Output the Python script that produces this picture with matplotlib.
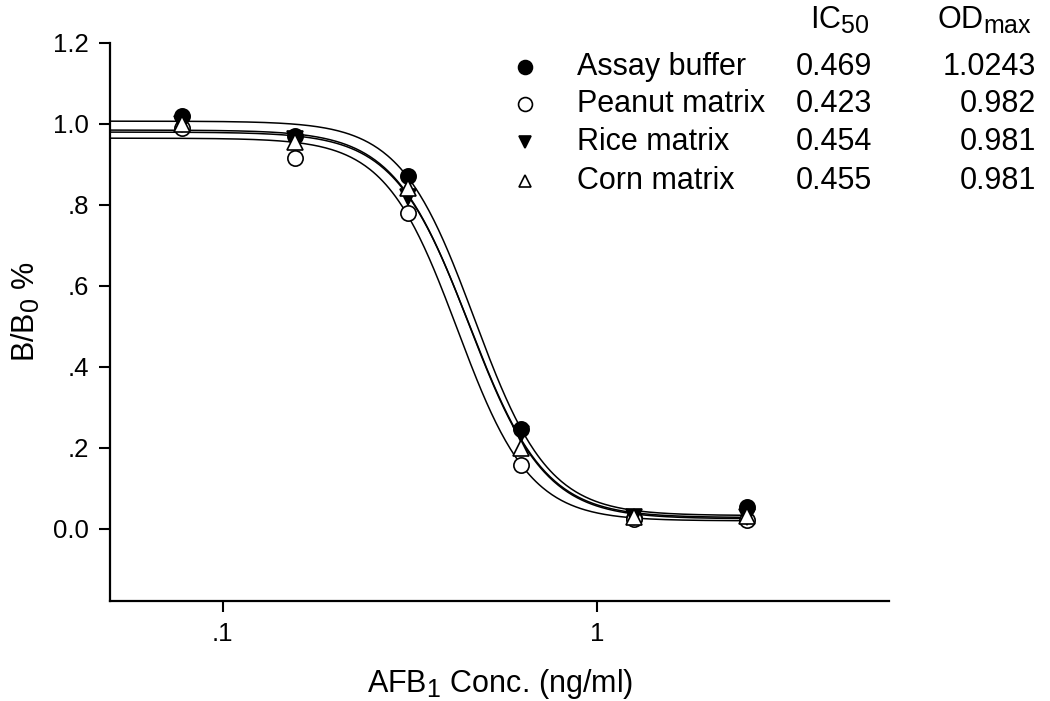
import numpy as np
import matplotlib
matplotlib.use("Agg")
import matplotlib.pyplot as plt
from matplotlib.lines import Line2D

try:
    import matplotlib._mathtext as _mt
    _mt.SHRINK_FACTOR = 0.82
except Exception:
    pass

plt.rcParams['font.family'] = ['Liberation Sans', 'DejaVu Sans']
plt.rcParams['mathtext.fontset'] = 'custom'
plt.rcParams['mathtext.rm'] = 'Liberation Sans'
plt.rcParams['mathtext.it'] = 'Liberation Sans:italic'
plt.rcParams['mathtext.bf'] = 'Liberation Sans:bold'

# ---- data ----
conc = [0.078, 0.156, 0.3125, 0.625, 1.25, 2.5]
series_names = ["Assay buffer", "Peanut matrix", "Rice matrix", "Corn matrix"]
buffer_vals = [1.02, 0.970, 0.872, 0.247, 0.028, 0.054]
peanut_vals = [0.990, 0.916, 0.780, 0.158, 0.025, 0.022]
rice_vals = [1.000, 0.962, 0.820, 0.235, 0.030, 0.030]
corn_vals = [1.000, 0.955, 0.842, 0.200, 0.030, 0.032]
ic50_labels = ["0.469", "0.423", "0.454", "0.455"]
odmax_labels = ["1.0243", "0.982", "0.981", "0.981"]
# fitted 4-parameter logistic curves (top, bottom, IC50, hill slope)
fit_top = [1.007, 0.965, 0.985, 0.980]
fit_bottom = [0.033, 0.020, 0.025, 0.028]
fit_c = [0.469, 0.423, 0.454, 0.455]
fit_h = [4.4, 4.5, 4.3, 4.3]
ytick_vals = [0.0, 0.2, 0.4, 0.6, 0.8, 1.0, 1.2]
ytick_labels = ["0.0", ".2", ".4", ".6", ".8", "1.0", "1.2"]
xtick_vals = [0.1, 1]
xtick_labels = [".1", "1"]

values = [buffer_vals, peanut_vals, rice_vals, corn_vals]
markers = ['o', 'o', 'v', '^']
faces = ['black', 'white', 'black', 'white']

W, H = 1050, 701
fig = plt.figure(figsize=(W / 100, H / 100), dpi=100)
ax = fig.add_axes([110 / W, 1 - 601 / H, (889 - 110) / W, (601 - 43) / H])
ax.set_xscale('log')

xs = np.logspace(np.log10(0.05), np.log10(2.5), 400)
for top, bot, c, h in zip(fit_top, fit_bottom, fit_c, fit_h):
    ys = (top - bot) / (1 + (xs / c) ** h) + bot
    ax.plot(xs, ys, color='black', lw=1.1, zorder=2)

for vals, m, fc in zip(values, markers, faces):
    ax.plot(conc, vals, linestyle='none', marker=m, ms=11, mfc=fc,
            mec='black', mew=1.2, zorder=3)

ax.set_xlim(0.05, 6)
ax.set_ylim(-0.178, 1.2)
ax.set_xticks(xtick_vals)
ax.set_xticklabels(xtick_labels)
ax.xaxis.set_minor_locator(matplotlib.ticker.NullLocator())
ax.set_yticks(ytick_vals)
ax.set_yticklabels(ytick_labels)
ax.tick_params(axis='both', direction='out', length=8, width=1.5,
               labelsize=18.5, pad=7)
for s in ['top', 'right']:
    ax.spines[s].set_visible(False)
for s in ['left', 'bottom']:
    ax.spines[s].set_linewidth(1.6)

fig.text(500 / W, 1 - 684 / H, r"AFB$\mathregular{_1}$ Conc. (ng/ml)",
         ha='center', va='center', fontsize=22)
fig.text(26 / W, 1 - 312 / H, r"B/B$\mathregular{_0}$ %", ha='center',
         va='center', fontsize=22, rotation=90)

# legend / table
row_y = [67, 104, 142, 181]
fig.text(840 / W, 1 - 20 / H, r"IC$\mathregular{_{50}}$", ha='center',
         va='center', fontsize=22)
fig.text(985 / W, 1 - 20 / H, r"OD$\mathregular{_{max}}$", ha='center',
         va='center', fontsize=22)
for name, m, fc, ic, od, y in zip(series_names, markers, faces,
                                  ic50_labels, odmax_labels, row_y):
    fy = 1 - y / H
    fig.add_artist(Line2D([525 / W], [fy], marker=m, ms=10 if m == 'o' else 9,
                          mfc=fc, mec='black', mew=1.2, linestyle='none',
                          transform=fig.transFigure))
    fig.text(577 / W, fy, name, ha='left', va='center', fontsize=22)
    fig.text(834 / W, fy, ic, ha='center', va='center', fontsize=22)
    fig.text(1036 / W, fy, od, ha='right', va='center', fontsize=22)

fig.savefig("out.png", dpi=100)
